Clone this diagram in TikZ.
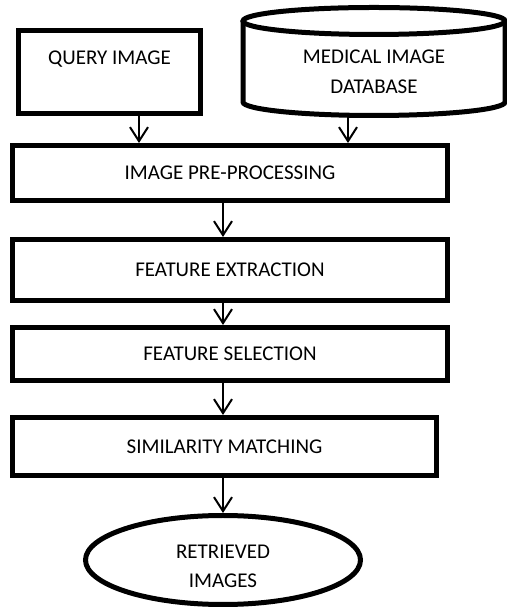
\documentclass[tikz,border=0pt]{standalone}
\usepackage{fontspec}
\setmainfont{Carlito}
\usetikzlibrary{arrows.meta,shapes.geometric}

\begin{document}
\begin{tikzpicture}[x=1pt,y=1pt,
    box/.style={draw,line width=5pt,rectangle,inner sep=0pt,align=center,
      font=\fontsize{21}{29}\selectfont},
    flow/.style={line width=2pt,-{Straight Barb[length=14pt,width=18pt,line width=2pt]}}]
  \useasboundingbox (0,0) rectangle (506,607);
  %% inputs
  \node[box,minimum width=182pt,minimum height=83pt] (query) at (109.5,535) {QUERY IMAGE\\\mbox{}};
  \draw[line width=5pt] (243,586) -- (243,505)
    arc[start angle=180,end angle=360,x radius=131,y radius=13.5] -- (505,586);
  \draw[line width=5pt] (374,586) ellipse [x radius=131,y radius=13.5];
  \node[align=center,font=\fontsize{21}{30}\selectfont] (db) at (374,535) {MEDICAL IMAGE\\DATABASE};
  \coordinate (dbbot) at (374,491.5);
  %% steps
  \node[box,minimum width=435pt,minimum height=55pt] (pre) at (230,434) {IMAGE PRE-PROCESSING};
  \node[box,minimum width=435pt,minimum height=61pt] (fe) at (230,337) {FEATURE EXTRACTION};
  \node[box,minimum width=435pt,minimum height=53pt] (fs) at (230,253) {FEATURE SELECTION};
  \node[box,minimum width=424pt,minimum height=58pt] (sim) at (224.5,160.5) {SIMILARITY MATCHING};
  %% output
  \node[box,ellipse,minimum width=275pt,minimum height=89pt] (ret) at (223,47) {\mbox{}\\[-3pt]RETRIEVED\\IMAGES};
  %% arrows
  \draw[flow] ([xshift=29.5pt]query.south) -- ([xshift=29.5pt]query.south |- pre.north);
  \draw[flow] ([xshift=-26pt]dbbot) -- ([xshift=-26pt]dbbot |- pre.north);
  \draw[flow] (pre.south -| ret.north) -- (fe.north -| ret.north);
  \draw[flow] (fe.south -| ret.north) -- (fs.north -| ret.north);
  \draw[flow] (fs.south -| ret.north) -- (sim.north -| ret.north);
  \draw[flow] (sim.south -| ret.north) -- (ret.north);
\end{tikzpicture}
\end{document}
